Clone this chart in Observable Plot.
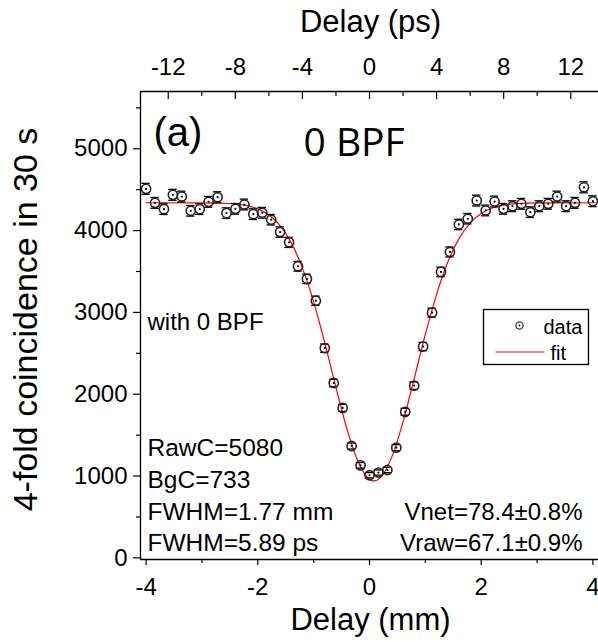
<!DOCTYPE html>
<html>
<head>
<meta charset="utf-8">
<script src="https://cdn.jsdelivr.net/npm/d3@7"></script>
<script src="https://cdn.jsdelivr.net/npm/@observablehq/plot@0.6"></script>
<style>
  html, body { margin: 0; padding: 0; background: #fff; }
  #chart svg { display: block; }
</style>
</head>
<body>
<div id="chart"></div>
<script>
// ---- data ----
const delayMm = [-4.00,-3.84,-3.68,-3.52,-3.36,-3.20,-3.04,-2.88,-2.72,-2.56,-2.40,-2.24,-2.08,-1.92,-1.76,-1.60,-1.44,-1.28,-1.12,-0.96,
  -0.80,-0.64,-0.48,-0.32,-0.16,0.00,0.16,0.32,0.48,0.64,0.80,0.96,1.12,1.28,1.44,1.60,1.76,1.92,2.08,2.24,
  2.40,2.56,2.72,2.88,3.04,3.20,3.36,3.52,3.68,3.84,4.00];
const counts = [4510,4339,4262,4437,4416,4242,4262,4351,4408,4213,4266,4319,4201,4218,4133,3982,3856,3564,3410,3143,
  2563,2137,1833,1367,1131,1010,1043,1074,1347,1785,2105,2583,2997,3495,3739,4075,4145,4367,4246,4355,
  4266,4298,4327,4225,4298,4327,4416,4298,4339,4529,4359];
const errors = [67,66,65,67,66,65,65,66,66,65,65,66,65,65,64,63,62,60,58,56,
  51,46,43,37,34,32,32,33,37,42,46,51,55,59,61,64,64,66,65,66,
  65,66,66,65,66,66,66,66,66,67,66];
const fitX = [-4.0,-3.0,-2.5,-2.2,-2.0,-1.8,-1.6,-1.4,-1.2,-1.0,-0.8,-0.6,-0.4,-0.2,0.0,0.08,0.2,0.4,0.6,0.8,1.0,1.2,1.4,1.6,1.8,2.0,2.2,2.4,2.8,3.2,4.05];
const fitY = [4340,4339,4331,4306,4266,4191,4060,3850,3541,3128,2626,2081,1567,1168,959,940,983,1234,1663,2190,2731,3218,3612,3899,4091,4209,4276,4311,4335,4339,4340];

const mmMajorTicks = [-4,-2,0,2,4];
const mmMinorTicks = [-3,-1,1,3];
const psMajorTicks = [-12,-8,-4,0,4,8,12];
const psMinorTicks = [-10,-6,-2,2,6,10];
const psPerMm = 3.33;
const yMajorTicks = [0,1000,2000,3000,4000,5000];
const yMinorTicks = [500,1500,2500,3500,4500,5500];

const xDomain = [-4.1, 4.1];
const yDomain = [-20, 5700];

const points = delayMm.map((x, i) => ({x, y: counts[i], e: errors[i]}));
const fit = fitX.map((x, i) => ({x, y: fitY[i]}));

const font = "'Liberation Sans', Arial, sans-serif";

const chart = Plot.plot({
  width: 598,
  height: 642,
  marginLeft: 140,
  marginRight: 0,
  marginTop: 91,
  marginBottom: 83,
  style: {fontFamily: font, background: "#fff", color: "#000", overflow: "visible"},
  x: {domain: xDomain},
  y: {domain: yDomain},
  marks: [
    // axis lines (left, top, bottom)
    Plot.ruleX([xDomain[0]], {stroke: "#000", strokeWidth: 1.3}),
    Plot.ruleY([yDomain[0], yDomain[1]], {stroke: "#000", strokeWidth: 1.3}),

    // bottom axis (mm)
    Plot.axisX({anchor: "bottom", ticks: mmMajorTicks, tickSize: 6, tickPadding: 12, fontSize: 24,
      tickFormat: d => String(d), label: null, strokeWidth: 1.2}),
    Plot.axisX({anchor: "bottom", ticks: mmMinorTicks, tickSize: 4, tickFormat: () => "", label: null, strokeWidth: 1.2}),

    // top axis (ps), ticks inward
    Plot.axisX({anchor: "top", ticks: psMajorTicks.map(p => p / psPerMm), tickSize: -7, tickFormat: () => "", label: null, strokeWidth: 1.2}),
    Plot.axisX({anchor: "top", ticks: psMinorTicks.map(p => p / psPerMm), tickSize: -4, tickFormat: () => "", label: null, strokeWidth: 1.2}),
    Plot.axisX({anchor: "top", ticks: psMajorTicks.map(p => p / psPerMm), tickSize: 0, tickPadding: 17, fontSize: 24,
      tickFormat: d => String(Math.round(d * psPerMm)), label: null}),

    // left axis
    Plot.axisY({anchor: "left", ticks: yMajorTicks, tickSize: 7, tickPadding: 6, fontSize: 24,
      tickFormat: d => String(d), label: null, strokeWidth: 1.2}),
    Plot.axisY({anchor: "left", ticks: yMinorTicks, tickSize: 4, tickFormat: () => "", label: null, strokeWidth: 1.2}),

    // axis titles
    Plot.text(["Delay (mm)"], {frameAnchor: "bottom", dx: 1, dy: 61, fontSize: 31, textAnchor: "middle", lineAnchor: "middle"}),
    Plot.text(["Delay (ps)"], {frameAnchor: "top", dx: 1, dy: -69, fontSize: 31, textAnchor: "middle", lineAnchor: "middle"}),
    Plot.text(["4-fold coincidence in 30 s"], {frameAnchor: "left", dx: -114, dy: -6, rotate: -90, fontSize: 34,
      textAnchor: "middle", lineAnchor: "middle"}),

    // fit curve
    Plot.line(fit, {x: "x", y: "y", stroke: "#ff0000", strokeWidth: 1.2, curve: "monotone-x"}),

    // error bar caps
    Plot.ruleY(points, {y: d => d.y + d.e, x1: d => d.x - 0.075, x2: d => d.x + 0.075, stroke: "#000", strokeWidth: 1.3}),
    Plot.ruleY(points, {y: d => d.y - d.e, x1: d => d.x - 0.075, x2: d => d.x + 0.075, stroke: "#000", strokeWidth: 1.3}),
    // markers
    Plot.dot(points, {x: "x", y: "y", r: 4.6, stroke: "#222", strokeWidth: 1.6, fill: "none"}),
    Plot.dot(points, {x: "x", y: "y", r: 1.1, fill: "#000", stroke: "none"}),

    // annotations
    Plot.text(["(a)"], {frameAnchor: "top-left", dx: 13, dy: 54, fontSize: 40, textAnchor: "start", lineAnchor: "bottom"}),
    Plot.text(["0 BPF"], {frameAnchor: "top-left", dx: 163, dy: 64, fontSize: 39, textAnchor: "start", lineAnchor: "bottom",
      fontFamily: "'Open Sans', 'Noto Sans', sans-serif"}),
    Plot.text(["with 0 BPF"], {frameAnchor: "top-left", dx: 7, dy: 238, fontSize: 24, textAnchor: "start", lineAnchor: "bottom"}),
    Plot.text(["RawC=5080"], {frameAnchor: "top-left", dx: 7, dy: 364, fontSize: 24.5, textAnchor: "start", lineAnchor: "bottom"}),
    Plot.text(["BgC=733"], {frameAnchor: "top-left", dx: 7, dy: 396, fontSize: 24.5, textAnchor: "start", lineAnchor: "bottom"}),
    Plot.text(["FWHM=1.77 mm"], {frameAnchor: "top-left", dx: 7, dy: 428, fontSize: 24.5, textAnchor: "start", lineAnchor: "bottom"}),
    Plot.text(["FWHM=5.89 ps"], {frameAnchor: "top-left", dx: 7, dy: 459, fontSize: 24.5, textAnchor: "start", lineAnchor: "bottom"}),
    Plot.text(["Vnet=78.4±0.8%"], {frameAnchor: "top-left", dx: 442, dy: 428, fontSize: 24, textAnchor: "end", lineAnchor: "bottom"}),
    Plot.text(["Vraw=67.1±0.9%"], {frameAnchor: "top-left", dx: 442, dy: 459, fontSize: 24, textAnchor: "end", lineAnchor: "bottom"}),

    // legend
    Plot.frame({stroke: "#000", strokeWidth: 1.3, insetLeft: 343, insetRight: 10, insetTop: 218, insetBottom: 195}),
    Plot.dot([0], {frameAnchor: "top-left", dx: 379, dy: 234, r: 3.6, stroke: "#444", strokeWidth: 1.4, fill: "none"}),
    Plot.dot([0], {frameAnchor: "top-left", dx: 379, dy: 234, r: 0.9, fill: "#000", stroke: "none"}),
    Plot.text(["data"], {frameAnchor: "top-left", dx: 403, dy: 242, fontSize: 20, textAnchor: "start", lineAnchor: "bottom"}),
    Plot.frame({fill: "#ff0000", stroke: "none", insetLeft: 355, insetRight: 54, insetTop: 260, insetBottom: 207}),
    Plot.text(["fit"], {frameAnchor: "top-left", dx: 410, dy: 268, fontSize: 20, textAnchor: "start", lineAnchor: "bottom"})
  ]
});
document.getElementById("chart").appendChild(chart);
</script>
</body>
</html>
